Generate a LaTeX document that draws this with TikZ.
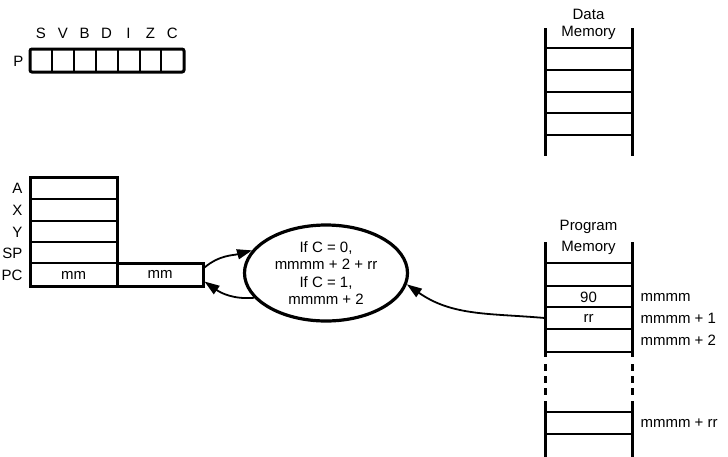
\documentclass[tikz,border=0pt]{standalone}
\usepackage{fontspec}
\setmainfont{Liberation Sans}
\usetikzlibrary{calc,arrows.meta,shapes.geometric}

\begin{document}
\begin{tikzpicture}[x=1pt,y=-1pt,font=\fontsize{15}{17}\selectfont,
  thickline/.style={line width=3pt},
  thinline/.style={line width=2pt},
  flow/.style={line width=1.8pt,-{Triangle[length=15pt,width=10pt]}}]
\useasboundingbox (0,0) rectangle (728,456);
\def\fw{21.9}
\def\ml{545}
\def\mr{632}

% Status register P with its flag letters
\draw[thickline,rounded corners=2pt] (30,49) rectangle (184,72);
\foreach \i in {1,...,6}
  \draw[thinline] ({30+\i*\fw},49) -- ({30+\i*\fw},72);
\foreach \f [count=\i] in {S,V,B,D,I,Z,C}
  \node (flag\i) at ({30+(\i-0.5)*\fw},33) {\f};
\node[anchor=east] (plabel) at (27,61) {P};

% Registers A, X, Y, SP and PC
\draw[thickline] (30,177) rectangle (117,286);
\foreach \y in {199,221,242,263}
  \draw[thinline] (30,\y) -- (117,\y);
\foreach \r/\y in {A/188,X/210,Y/232,SP/253,PC/275}
  \node[anchor=east] (reg\r) at (26,\y) {\r};
\node (pclo) at (73.5,275) {mm};
\node[draw,thickline,minimum width=86pt,minimum height=23pt,inner sep=0pt] (pchi) at (160,274.5) {mm};

% Branch condition
\node[ellipse,draw,line width=3.2pt,minimum width=163pt,minimum height=96pt,
  inner sep=0pt,align=center,font=\fontsize{15}{17.5}\selectfont] (cond) at (326,273)
  {If C = 0,\\mmmm + 2 + rr\\If C = 1,\\mmmm + 2};

% Data memory
\node (dtitle) at ({(\ml+\mr)/2},14) {Data};
\node (dmem) at ({(\ml+\mr)/2},33) {Memory};
\draw[thickline] (\ml,28) -- (\ml,156);
\draw[thickline] (\mr,28) -- (\mr,156);
\foreach \y in {48,70,92,113,135}
  \draw[thinline] (\ml,\y) -- (\mr,\y);

% Program memory
\node (ptitle) at ({(\ml+\mr)/2},227) {Program};
\node (pmem) at ({(\ml+\mr)/2},248) {Memory};
\foreach \x in {\ml,\mr} {
  \draw[thickline] (\x,242) -- (\x,357);
  \draw[thickline,dash pattern=on 7pt off 5pt] (\x,364) -- (\x,396);
  \draw[thickline] (\x,401) -- (\x,460);
}
\foreach \y in {263,286,307,329,352,412,434}
  \draw[thinline] (\ml,\y) -- (\mr,\y);
\node (op) at ({(\ml+\mr)/2},297) {90};
\node[minimum width=87pt,inner sep=0pt] (rr) at ({(\ml+\mr)/2},318) {rr};
\node[anchor=west] (addr0) at (637,297) {mmmm};
\node[anchor=west] (addr1) at (637,318) {mmmm + 1};
\node[anchor=west] (addr2) at (637,340) {mmmm + 2};
\node[anchor=west] (addrn) at (637,423) {mmmm + rr};

% Connectors
\draw[flow] ([yshift=7pt]pchi.east) to[out=40,in=195] (cond.163);
\draw[flow] (cond.199) to[out=185,in=-35] ([yshift=-7pt]pchi.east);
\draw[flow] (rr.west) to[out=175,in=-35] (cond.-8);
\end{tikzpicture}
\end{document}
